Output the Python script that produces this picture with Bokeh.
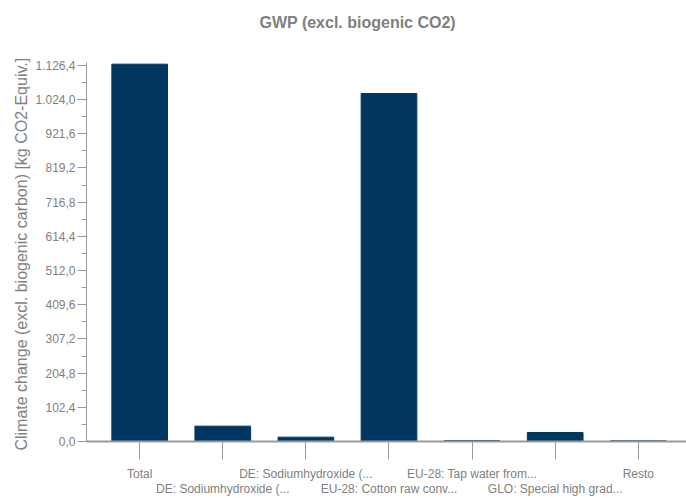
from bokeh.plotting import figure
from bokeh.models import Range1d, FixedTicker, LinearAxis, ColumnDataSource, Title
from bokeh.embed import file_html
from bokeh.resources import INLINE

categories = ["Total", "DE: Sodiumhydroxide (...", "DE: Sodiumhydroxide (...",
              "EU-28: Cotton raw conv...", "EU-28: Tap water from...",
              "GLO: Special high grad...", "Resto"]
values = [1130.0, 46.0, 13.0, 1042.0, 2.5, 27.0, 2.0]
y_ticks = [0.0, 102.4, 204.8, 307.2, 409.6, 512.0, 614.4, 716.8, 819.2, 921.6, 1024.0, 1126.4]
y_tick_labels = ["0,0", "102,4", "204,8", "307,2", "409,6", "512,0", "614,4",
                 "716,8", "819,2", "921,6", "1.024,0", "1.126,4"]
y_minor = [51.2 + 102.4 * i for i in range(11)]

TXT = "#808080"
AX = "#9a9a9a"
BAR = "#00365f"
FONT = "Liberation Sans"

xs = list(range(len(categories)))
src = ColumnDataSource(dict(x=xs, top=values))

p = figure(width=686, height=498, output_backend="svg", toolbar_location=None,
           x_range=Range1d(-0.64, 6.58), y_range=Range1d(0, 1135),
           min_border_left=86, min_border_right=0, min_border_top=62, min_border_bottom=0,
           x_axis_location=None, y_axis_location=None)
p.outline_line_color = None
p.border_fill_color = "white"
p.xgrid.visible = False
p.ygrid.visible = False
p.background_fill_color = "white"

p.title = Title(text="GWP (excl. biogenic CO2)", align="left", offset=173,
                text_font=FONT, text_font_size="16px", text_color=TXT,
                text_font_style="bold")
# spacer between title and plot frame
p.add_layout(Title(text=" ", text_font_size="13px"), "above")

p.vbar(x="x", top="top", width=0.67, source=src, color=BAR)

# y axis
ya = LinearAxis(ticker=FixedTicker(ticks=y_ticks, minor_ticks=y_minor))
ya.major_label_overrides = {t: l for t, l in zip(y_ticks, y_tick_labels)}
ya.axis_label = "Climate change (excl. biogenic carbon)  [kg CO2-Equiv.]"
ya.axis_label_text_font = FONT
ya.axis_label_text_font_size = "16px"
ya.axis_label_text_font_style = "normal"
ya.axis_label_text_color = TXT
ya.axis_label_standoff = 2
ya.major_label_text_font = FONT
ya.major_label_text_font_size = "12px"
ya.major_label_text_color = TXT
ya.major_label_standoff = 2
ya.major_tick_out = 9
ya.major_tick_in = 0
ya.minor_tick_out = 5
ya.minor_tick_in = 0
ya.axis_line_color = AX
ya.major_tick_line_color = AX
ya.minor_tick_line_color = AX
p.add_layout(ya, "left")

# x axis, first row (even labels)
xa1 = LinearAxis(ticker=FixedTicker(ticks=xs, minor_ticks=[]))
xa1.major_label_overrides = {i: (c if i % 2 == 0 else "") for i, c in enumerate(categories)}
xa1.major_label_text_font = FONT
xa1.major_label_text_font_size = "12px"
xa1.major_label_text_color = TXT
xa1.major_label_standoff = 7
xa1.major_tick_out = 18
xa1.major_tick_in = 0
xa1.axis_line_color = AX
xa1.axis_line_width = 2
xa1.major_tick_line_color = AX
p.add_layout(xa1, "below")

# x axis, second row (odd labels)
xa2 = LinearAxis(ticker=FixedTicker(ticks=xs, minor_ticks=[]))
xa2.major_label_overrides = {i: (c if i % 2 == 1 else "") for i, c in enumerate(categories)}
xa2.major_label_text_font = FONT
xa2.major_label_text_font_size = "12px"
xa2.major_label_text_color = TXT
xa2.major_label_standoff = -2
xa2.major_tick_out = 0
xa2.major_tick_in = 0
xa2.axis_line_color = None
xa2.major_tick_line_color = None
p.add_layout(xa2, "below")

open("out.html", "w").write(file_html(p, INLINE))
